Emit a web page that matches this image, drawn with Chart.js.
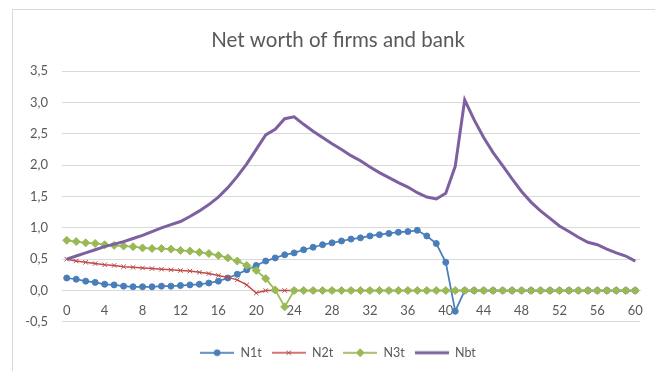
<!DOCTYPE html>
<html>
<head>
<meta charset="utf-8">
<title>Net worth of firms and bank</title>
<script src="https://cdn.jsdelivr.net/npm/chart.js@4.4.0/dist/chart.umd.min.js"></script>
<style>
  html, body { margin: 0; padding: 0; background: #fff; overflow: hidden; }
  #frame {
    position: absolute;
    left: 12px;
    top: 9px;
    border-left: 1px solid #d9d9d9;
    border-top: 1px solid #d9d9d9;
  }
  #frame canvas { display: block; }
</style>
</head>
<body>
<div id="frame"><canvas id="netWorthChart" width="650" height="361"></canvas></div>
<script>
const periods = [
  0, 1, 2, 3, 4, 5, 6, 7, 8, 9, 10, 11, 12, 13, 14, 15, 16, 17, 18, 19, 20,
  21, 22, 23, 24, 25, 26, 27, 28, 29, 30, 31, 32, 33, 34, 35, 36, 37, 38, 39, 40,
  41, 42, 43, 44, 45, 46, 47, 48, 49, 50, 51, 52, 53, 54, 55, 56, 57, 58, 59, 60
]

const n1t = [
  0.20, 0.18, 0.15, 0.13, 0.10, 0.09, 0.07, 0.06, 0.06, 0.06, 0.07,
  0.07, 0.08, 0.09, 0.10, 0.12, 0.15, 0.20, 0.26, 0.33, 0.40,
  0.47, 0.52, 0.57, 0.60, 0.65, 0.69, 0.73, 0.76, 0.79, 0.82,
  0.84, 0.87, 0.89, 0.91, 0.93, 0.94, 0.96, 0.87, 0.75, 0.45,
  -0.33, 0, 0, 0, 0, 0, 0, 0, 0, 0,
  0, 0, 0, 0, 0, 0, 0, 0, 0, 0
]

const n2t = [
  0.50, 0.47, 0.45, 0.43, 0.41, 0.40, 0.38, 0.37, 0.36, 0.35, 0.34,
  0.33, 0.32, 0.31, 0.29, 0.27, 0.24, 0.21, 0.17, 0.09, -0.04,
  0, 0, 0, 0, 0, 0, 0, 0, 0, 0,
  0, 0, 0, 0, 0, 0, 0, 0, 0, 0,
  0, 0, 0, 0, 0, 0, 0, 0, 0, 0,
  0, 0, 0, 0, 0, 0, 0, 0, 0, 0
]

const n3t = [
  0.80, 0.78, 0.76, 0.75, 0.73, 0.72, 0.71, 0.70, 0.68, 0.67, 0.67,
  0.66, 0.64, 0.63, 0.61, 0.59, 0.56, 0.52, 0.47, 0.40, 0.32,
  0.19, 0.01, -0.26, 0, 0, 0, 0, 0, 0, 0,
  0, 0, 0, 0, 0, 0, 0, 0, 0, 0,
  0, 0, 0, 0, 0, 0, 0, 0, 0, 0,
  0, 0, 0, 0, 0, 0, 0, 0, 0, 0
]

const nbt = [
  0.50, 0.55, 0.60, 0.65, 0.70, 0.74, 0.78, 0.83, 0.88, 0.94, 1.00,
  1.05, 1.10, 1.18, 1.27, 1.37, 1.49, 1.64, 1.82, 2.02, 2.25,
  2.48, 2.57, 2.74, 2.77, 2.65, 2.54, 2.44, 2.34, 2.25, 2.15,
  2.07, 1.97, 1.88, 1.80, 1.72, 1.65, 1.56, 1.49, 1.46, 1.55,
  1.98, 3.04, 2.72, 2.44, 2.20, 1.99, 1.78, 1.58, 1.41, 1.27,
  1.15, 1.03, 0.94, 0.85, 0.77, 0.73, 0.66, 0.60, 0.55, 0.47
]

const labelEvery = 4
const textColor = '#595959'
const gridColor = '#d9d9d9'

Chart.defaults.font.family = 'Lato, "Open Sans", sans-serif'
Chart.defaults.color = textColor

/**
 * Small line-with-marker swatch used as a legend point style.
 */
function legendSwatch (ds) {
  const c = document.createElement('canvas')
  c.width = 34
  c.height = 12
  const ctx = c.getContext('2d')
  ctx.strokeStyle = ds.borderColor
  ctx.lineWidth = ds.borderWidth
  ctx.beginPath()
  ctx.moveTo(0, 6)
  ctx.lineTo(34, 6)
  ctx.stroke()
  if (ds.pointRadius > 0) {
    ctx.fillStyle = ds.pointBackgroundColor
    ctx.strokeStyle = ds.borderColor
    ctx.lineWidth = ds.pointBorderWidth
    Chart.helpers.drawPoint(ctx, {
      pointStyle: ds.pointStyle,
      radius: ds.pointRadius,
      borderWidth: ds.pointBorderWidth,
      rotation: 0
    }, 17, 6)
  }
  return c
}

const datasets = [
  {
    label: 'N1t',
    data: n1t,
    borderColor: '#4a7ebb',
    pointBackgroundColor: '#4a7ebb',
    borderWidth: 1.75,
    pointStyle: 'circle',
    pointRadius: 3,
    pointBorderWidth: 1,
    order: 4
  },
  {
    label: 'N2t',
    data: n2t,
    borderColor: '#be4b48',
    pointBackgroundColor: '#be4b48',
    borderWidth: 1.5,
    pointStyle: 'crossRot',
    pointRadius: 3.2,
    pointBorderWidth: 1,
    order: 3
  },
  {
    label: 'N3t',
    data: n3t,
    borderColor: '#98b954',
    pointBackgroundColor: '#98b954',
    borderWidth: 1.75,
    pointStyle: 'rectRot',
    pointRadius: 4,
    pointBorderWidth: 1,
    order: 2
  },
  {
    label: 'Nbt',
    data: nbt,
    borderColor: '#7d60a0',
    pointBackgroundColor: '#7d60a0',
    borderWidth: 3,
    pointStyle: 'circle',
    pointRadius: 0,
    pointBorderWidth: 0,
    order: 1
  }
]

const swatches = datasets.map(legendSwatch)

const ctx = document.getElementById('netWorthChart').getContext('2d')

new Chart(ctx, {
  type: 'line',
  data: {
    labels: periods,
    datasets: datasets.map(ds => Object.assign({
      tension: 0,
      fill: false,
      pointHoverRadius: ds.pointRadius,
      pointBorderColor: ds.borderColor
    }, ds))
  },
  options: {
    responsive: false,
    animation: false,
    layout: { padding: { left: 0, right: 0, top: 0, bottom: 2 } },
    plugins: {
      tooltip: { enabled: false },
      title: {
        display: true,
        text: 'Net worth of firms and bank',
        color: textColor,
        font: { size: 20.5, weight: 'normal' },
        padding: { top: 17.7, bottom: 18.7 }
      },
      legend: {
        position: 'bottom',
        title: {
          // empty title only pushes the row of entries down
          display: true,
          text: '',
          padding: 0,
          font: { size: 10, lineHeight: 1.46 }
        },
        labels: {
          usePointStyle: true,
          pointStyleWidth: 34,
          padding: 10,
          color: textColor,
          font: { size: 12.5 },
          generateLabels (chart) {
            return chart.data.datasets.map((ds, i) => ({
              text: ds.label,
              pointStyle: swatches[i],
              fontColor: textColor,
              fillStyle: 'transparent',
              strokeStyle: 'transparent',
              lineWidth: 0,
              hidden: !chart.isDatasetVisible(i),
              datasetIndex: i
            }))
          }
        }
      }
    },
    scales: {
      x: {
        type: 'category',
        position: { y: 0 },
        offset: true,
        grid: { display: false, drawTicks: false },
        border: { display: true, color: gridColor, width: 1 },
        ticks: {
          autoSkip: false,
          maxRotation: 0,
          padding: 12,
          color: textColor,
          font: { size: 13 },
          callback: (value, index) => index % labelEvery === 0 ? String(periods[index]) : ''
        }
      },
      y: {
        min: -0.5,
        max: 3.5,
        grid: { color: gridColor, drawTicks: false },
        border: { display: false },
        ticks: {
          stepSize: 0.5,
          padding: 14,
          color: textColor,
          font: { size: 13 },
          callback: value => value.toFixed(1).replace('.', ',')
        },
        afterFit (scale) { scale.width = 49 }
      },
      yPad: {
        // blank strip on the right so the plot stops short of the edge
        position: 'right',
        grid: { display: false },
        border: { display: false },
        ticks: { display: false },
        afterFit (scale) { scale.width = 23 }
      }
    }
  }
})
</script>
</body>
</html>
